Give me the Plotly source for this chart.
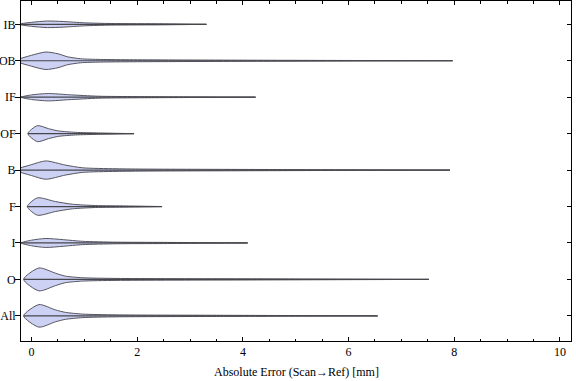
import plotly.graph_objects as go

# Categories (top to bottom in the chart)
categories = ["IB", "OB", "IF", "OF", "B", "F", "I", "O", "All"]

# Violin profiles: x positions (mm) and half-widths
# (in units of category spacing) of the density outline.
profile_x = {
    "IB":  [-0.25, 0.0, 0.30, 0.60, 1.00, 1.50, 2.50, 3.31],
    "OB":  [-0.30, 0.0, 0.27, 0.50, 0.68, 0.93, 1.30, 1.93, 4.00, 7.97],
    "IF":  [-0.20, 0.0, 0.32, 0.70, 1.27, 2.00, 4.24],
    "OF":  [-0.07, 0.11, 0.32, 0.51, 0.83, 1.27, 1.94],
    "B":   [-0.30, 0.0, 0.27, 0.64, 0.96, 1.60, 2.20, 4.50, 7.92],
    "F":   [-0.08, 0.11, 0.45, 0.77, 1.21, 1.80, 2.47],
    "I":   [-0.20, 0.0, 0.27, 0.60, 0.96, 1.60, 2.50, 4.09],
    "O":   [-0.15, 0.14, 0.45, 0.64, 0.96, 1.60, 4.00, 7.52],
    "All": [-0.15, 0.14, 0.45, 0.64, 0.96, 1.60, 3.50, 6.55],
}
profile_w = {
    "IB":  [0, 0.055, 0.090, 0.077, 0.041, 0.022, 0.014, 0],
    "OB":  [0, 0.150, 0.240, 0.191, 0.109, 0.055, 0.036, 0.027, 0.016, 0],
    "IF":  [0, 0.063, 0.101, 0.068, 0.027, 0.016, 0],
    "OF":  [0, 0.219, 0.137, 0.074, 0.036, 0.019, 0],
    "B":   [0, 0.150, 0.251, 0.137, 0.063, 0.036, 0.027, 0.016, 0],
    "F":   [0, 0.238, 0.137, 0.063, 0.027, 0.016, 0],
    "I":   [0, 0.077, 0.123, 0.090, 0.046, 0.022, 0.016, 0],
    "O":   [0, 0.314, 0.172, 0.090, 0.046, 0.027, 0.016, 0],
    "All": [0, 0.309, 0.164, 0.096, 0.049, 0.027, 0.016, 0],
}

x_ticks = [0, 2, 4, 6, 8, 10]
x_title = "Absolute Error (Scan\u2192Ref) [mm]"

FONT = "Liberation Serif, Times New Roman, serif"
FILL = "rgb(205,210,245)"
EDGE = "rgb(85,85,95)"

n = len(categories)
positions = {c: n - i for i, c in enumerate(categories)}

fig = go.Figure()
for c in categories:
    xs = profile_x[c]
    ws = profile_w[c]
    p = positions[c]
    px = xs + xs[::-1]
    py = [p + w for w in ws] + [p - w for w in ws[::-1]]
    fig.add_trace(go.Scatter(
        x=px, y=py, mode="lines", fill="toself", fillcolor=FILL,
        line=dict(color=EDGE, width=1, shape="spline", smoothing=0.7),
        showlegend=False, hoverinfo="skip"))
    fig.add_trace(go.Scatter(
        x=[xs[0], xs[-1]], y=[p, p], mode="lines",
        line=dict(color="rgb(70,70,75)", width=1.2),
        showlegend=False, hoverinfo="skip"))

# dummy trace for right-side axis
fig.add_trace(go.Scatter(x=[None], y=[None], yaxis="y2", showlegend=False))

tickvals = [positions[c] for c in categories]
yrange = [0.31, 9.64]

fig.update_layout(
    width=576, height=381,
    margin=dict(l=21, r=5, t=1, b=40, autoexpand=False),
    paper_bgcolor="white", plot_bgcolor="white",
    font=dict(family=FONT, size=12, color="black"),
    xaxis=dict(
        range=[-0.2, 10.21], tickvals=x_ticks, ticktext=[str(v) for v in x_ticks],
        ticks="inside", ticklen=4, tickwidth=1, tickcolor="black",
        minor=dict(dtick=0.5, tick0=0, ticks="inside", ticklen=2.5, tickcolor="black"),
        showline=True, linecolor="black", linewidth=1, mirror="ticks",
        showgrid=False, zeroline=False, automargin=False,
        tickfont=dict(family=FONT, size=12, color="black"),
    ),
    yaxis=dict(
        range=yrange, tickvals=tickvals, ticktext=categories,
        ticks="outside", ticklen=5, tickwidth=1, tickcolor="black",
        ticklabelstandoff=-3,
        showline=True, linecolor="black", linewidth=1, mirror=True,
        showgrid=False, zeroline=False, automargin=False,
        tickfont=dict(family=FONT, size=12, color="black"),
    ),
    yaxis2=dict(
        range=yrange, tickvals=tickvals, showticklabels=False,
        overlaying="y", side="right", anchor="x",
        ticks="inside", ticklen=4, tickwidth=1, tickcolor="black",
        showline=False, showgrid=False, zeroline=False, automargin=False,
    ),
    annotations=[dict(
        text=x_title, xref="paper", yref="paper", x=0.5, y=-0.091,
        xanchor="center", yanchor="middle", showarrow=False,
        font=dict(family=FONT, size=12, color="black"))],
)

fig.write_html(
    "out.html",
    config={"displayModeBar": False},
    post_script="document.body.style.margin='0px';document.body.style.overflow='hidden';",
)
